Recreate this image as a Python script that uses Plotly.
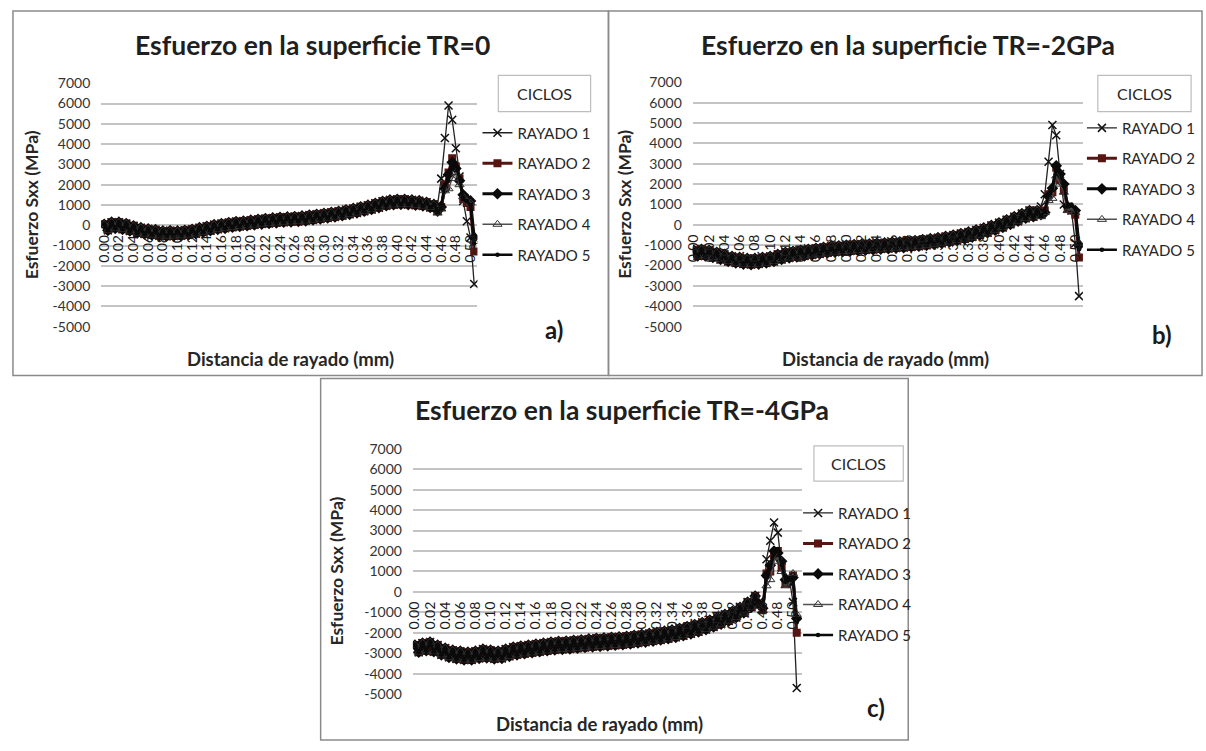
import numpy as np
import plotly.graph_objects as go

# ---------------- data ----------------
# x categories: scratch distance (mm)
X = [round(v, 3) for v in np.arange(0, 0.5051, 0.005)]

SERIES_NAMES = ["RAYADO 1", "RAYADO 2", "RAYADO 3", "RAYADO 4", "RAYADO 5"]
TICK_Y = [-5000, -4000, -3000, -2000, -1000, 0, 1000, 2000, 3000, 4000, 5000, 6000, 7000]
TITLES = ["Esfuerzo en la superficie TR=0",
          "Esfuerzo en la superficie TR=-2GPa",
          "Esfuerzo en la superficie TR=-4GPa"]
PANEL_TAGS = ["a)", "b)", "c)"]

# common part (0.000 .. 0.450 mm) of each panel, MPa
base_a = [50, -250, 150, -150, 150, -200, 80, -280, -30, -380,
          -120, -430, -180, -480, -220, -520, -280, -540, -270, -530,
          -280, -520, -250, -480, -200, -420, -120, -340, -50, -270,
          30, -200, 80, -150, 130, -100, 180, -60, 210, -20,
          250, 20, 290, 60, 330, 90, 360, 120, 390, 150,
          410, 170, 430, 190, 460, 220, 500, 260, 540, 310,
          590, 360, 640, 410, 690, 470, 760, 540, 830, 610,
          910, 690, 990, 780, 1080, 870, 1180, 960, 1250, 1010,
          1280, 1030, 1280, 1020, 1250, 990, 1210, 950, 1130, 880,
          1030]
base_b = [-1250, -1525, -1200, -1525, -1250, -1600, -1350, -1700, -1450, -1800,
          -1550, -1875, -1600, -1925, -1650, -1950, -1650, -1925, -1600, -1875,
          -1550, -1800, -1450, -1700, -1350, -1625, -1300, -1575, -1250, -1525,
          -1200, -1475, -1150, -1425, -1100, -1375, -1050, -1340, -1030, -1315,
          -1000, -1285, -970, -1260, -950, -1240, -930, -1215, -900, -1190,
          -880, -1165, -850, -1140, -830, -1115, -800, -1085, -770, -1050,
          -730, -1005, -680, -955, -630, -900, -570, -835, -500, -765,
          -430, -690, -350, -600, -250, -500, -150, -390, -30, -265,
          100, -125, 250, 25, 400, 175, 550, 325, 700, 400,
          700]
base_c = [-2600, -2950, -2500, -2875, -2450, -2925, -2600, -3075, -2750, -3200,
          -2850, -3275, -2900, -3325, -2950, -3325, -2900, -3250, -2800, -3225,
          -2850, -3275, -2900, -3250, -2800, -3150, -2700, -3075, -2650, -3025,
          -2600, -2975, -2550, -2925, -2500, -2875, -2450, -2835, -2420, -2810,
          -2400, -2785, -2370, -2755, -2340, -2720, -2300, -2685, -2270, -2660,
          -2250, -2635, -2220, -2610, -2200, -2585, -2170, -2545, -2120, -2500,
          -2080, -2455, -2030, -2405, -1980, -2350, -1920, -2290, -1860, -2220,
          -1780, -2140, -1700, -2050, -1600, -1950, -1500, -1840, -1380, -1715,
          -1250, -1575, -1100, -1425, -950, -1250, -750, -1025, -500, -750,
          -200]

# end of the scratch (0.455 .. 0.505 mm), one list per series
tails_a = [[1000, 2300, 4300, 5900, 5200, 3800, 2400, 1200, 200, -600, -2900],
           [700, 900, 2000, 2600, 3300, 2900, 2300, 1300, 1100, 900, -1300],
           [700, 900, 1800, 2500, 3100, 2800, 2200, 1500, 1300, 1200, -600],
           [600, 800, 1700, 1800, 2300, 2600, 2000, 1400, 1200, 1100, -800],
           [650, 850, 2000, 2200, 2800, 3000, 2300, 1300, 1200, 1000, -900]]
tails_b = [[900, 1500, 3100, 4900, 4400, 2500, 1000, 800, 700, -900, -3500],
           [500, 700, 1500, 1600, 2800, 2200, 1700, 800, 700, 500, -1600],
           [500, 600, 1400, 1800, 2900, 2500, 2000, 900, 800, 700, -1000],
           [400, 600, 1200, 1300, 2400, 2000, 1600, 700, 800, 600, -900],
           [450, 650, 1500, 1700, 2700, 2600, 1900, 900, 1000, 800, -1200]]
tails_c = [[-500, -800, 1600, 2500, 3400, 2900, 1200, 400, 700, -500, -4700],
           [-600, -900, 900, 1000, 1800, 2000, 1200, 400, 500, 800, -2000],
           [-600, -800, 800, 1300, 2000, 1900, 1500, 600, 500, 700, -1300],
           [-700, -900, 300, 600, 1500, 1700, 1000, 300, 400, 900, -1100],
           [-650, -850, 700, 1200, 1900, 2100, 1300, 500, 600, 700, -1500]]

BASES = [base_a, base_b, base_c]
TAILS = [tails_a, tails_b, tails_c]

# ---------------- layout helpers ----------------
W, H = 1206, 751
FONT = "Lato, 'Open Sans', sans-serif"

def px(x):
    return x / W

def py(y):
    return 1 - y / H

# panel geometry in pixels
PANELS = [
    dict(frame=(5, 2, 605, 375), plot=(94, 76, 473, 325), xr=[-0.004, 0.5095],
         title=(307, 37), ytitle=(24, 200), xtitle=(285, 358), tag=(550, 328),
         box=(494, 68, 587, 105), leg=(473, 110)),
    dict(frame=(605, 2, 1203, 375), plot=(690, 75, 1083, 325), xr=[-0.0013, 0.510],
         title=(907, 37), ytitle=(621, 200), xtitle=(884, 358), tag=(1163, 333),
         box=(1098, 68, 1192, 105), leg=(1082, 105)),
    dict(frame=(315, 378, 907, 748), plot=(408, 450, 800, 701), xr=[-0.0026, 0.512],
         title=(619, 410), ytitle=(331, 575), xtitle=(596, 732), tag=(875, 715),
         box=(812, 447, 902, 483), leg=(796, 499)),
]

STYLES = [
    dict(line=dict(color="#222222", width=1.3),
         marker=dict(symbol="x-thin", size=8, line=dict(color="#111111", width=1.5))),
    dict(line=dict(color="#561510", width=3),
         marker=dict(symbol="square", size=8, color="#561510")),
    dict(line=dict(color="#0a0a0a", width=3),
         marker=dict(symbol="diamond", size=9, color="#0a0a0a")),
    dict(line=dict(color="#505050", width=1.5),
         marker=dict(symbol="triangle-up-open", size=8, color="#333333", line=dict(width=1))),
    dict(line=dict(color="#0a0a0a", width=2.5),
         marker=dict(symbol="circle", size=4.5, color="#0a0a0a")),
]

fig = go.Figure()
shapes, annotations = [], []
layout = dict(width=W, height=H, margin=dict(l=0, r=0, t=0, b=0),
              paper_bgcolor="white", plot_bgcolor="white",
              font=dict(family=FONT, color="#262626"))

def note(text, x, y, size, angle=0, color="#1f1f1f"):
    return dict(text=text, x=px(x), y=py(y), xref="paper", yref="paper",
                xanchor="center", yanchor="middle", showarrow=False, textangle=angle,
                font=dict(family=FONT, size=size, color=color))

for p, geo in enumerate(PANELS):
    sfx = "" if p == 0 else str(p + 1)
    x0, y0, x1, y1 = geo["plot"]
    xdom = [px(x0), px(x1)]
    ydom = [py(y1), py(y0)]
    yrange = [-5000, 7000]
    zero_pos = ydom[0] + (0 - yrange[0]) / (yrange[1] - yrange[0]) * (ydom[1] - ydom[0])
    legname = "legend" + sfx

    for s in range(5):
        ys = BASES[p] + TAILS[p][s]
        fig.add_trace(go.Scatter(
            x=X, y=ys, mode="lines+markers", name=SERIES_NAMES[s],
            xaxis="x" + sfx, yaxis="y" + sfx, legend=legname,
            legendgroup=f"p{p}s{s}", **STYLES[s]))

    layout["xaxis" + sfx] = dict(
        domain=xdom, range=geo["xr"], anchor="free", position=zero_pos,
        tickmode="linear", tick0=0, dtick=0.02, tickformat=".2f",
        tickangle=-90, showgrid=False, zeroline=False, showline=False,
        ticks="", ticklabelstandoff=6,
        tickfont=dict(family=FONT, size=14, color="#1a1a1a"))
    layout["yaxis" + sfx] = dict(
        domain=ydom, range=yrange, anchor="x" + sfx,
        tickvals=TICK_Y, ticktext=[str(v) for v in TICK_Y],
        showgrid=True, gridcolor="#c4c4c4", gridwidth=1.6,
        zeroline=False, showline=False, ticks="", ticklabelstandoff=10,
        tickfont=dict(family=FONT, size=14, color="#333333"))

    lx, ly = geo["leg"]
    layout[legname] = dict(
        x=px(lx), y=py(ly), xanchor="left", yanchor="top",
        bgcolor="rgba(0,0,0,0)", borderwidth=0, itemwidth=30,
        tracegroupgap=8, font=dict(family=FONT, size=15, color="#262626"))

    fx0, fy0, fx1, fy1 = geo["frame"]
    shapes.append(dict(type="rect", xref="paper", yref="paper",
                       x0=px(fx0), x1=px(fx1), y0=py(fy1), y1=py(fy0),
                       line=dict(color="#8a8a8a", width=1.5)))
    bx0, by0, bx1, by1 = geo["box"]
    shapes.append(dict(type="rect", xref="paper", yref="paper",
                       x0=px(bx0), x1=px(bx1), y0=py(by1), y1=py(by0),
                       line=dict(color="#bdbdbd", width=1.2)))
    annotations.append(note("CICLOS", (bx0 + bx1) / 2, (by0 + by1) / 2, 16, color="#262626"))
    annotations.append(note("<b>" + TITLES[p] + "</b>", *geo["title"], 26.5))
    annotations.append(note("<b>Esfuerzo Sxx (MPa)</b>", *geo["ytitle"], 17.5, angle=-90,
                            color="#262626"))
    annotations.append(note("<b>Distancia de rayado (mm)</b>", *geo["xtitle"], 18.5,
                            color="#262626"))
    annotations.append(note("<b>" + PANEL_TAGS[p] + "</b>", *geo["tag"], 24, color="#1a1a1a"))

layout["shapes"] = shapes
layout["annotations"] = annotations
layout["showlegend"] = True
fig.update_layout(**layout)
fig.write_html("out.html", config={"displayModeBar": False},
               post_script="document.body.style.margin='0px';")
